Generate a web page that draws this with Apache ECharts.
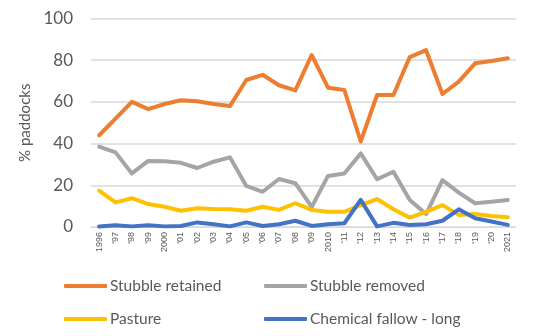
<!DOCTYPE html>
<html>
<head>
<meta charset="utf-8">
<script src="https://cdn.jsdelivr.net/npm/echarts@6/dist/echarts.min.js"></script>
<style>
  html, body { margin: 0; padding: 0; background: #fff; }
  #chart { width: 533px; height: 336px; }
</style>
</head>
<body>
<div id="chart"></div>
<script>
// Survey years and their axis labels
const years = ['1996', "'97", "'98", "'99", '2000', "'01", "'02", "'03", "'04", "'05",
  "'06", "'07", "'08", "'09", '2010', "'11", "'12", "'13", "'14", "'15",
  "'16", "'17", "'18", "'19", "'20", '2021'];

// Share of paddocks (%) by practice
const stubbleRetained = [44, 52, 60, 56.5, 59, 60.8, 60.3, 59, 58, 70.5,
  73, 68, 65.5, 82.5, 66.8, 65.7, 41, 63.3, 63.3, 81.5,
  84.8, 63.8, 69.7, 78.5, 79.6, 80.9];
const stubbleRemoved = [38.5, 35.8, 25.7, 31.7, 31.5, 30.8, 28.3, 31.3, 33.4, 19.7,
  16.9, 23, 21, 9.6, 24.5, 25.7, 35.3, 22.9, 26.5, 13,
  6.2, 22.5, 16.5, 11.4, 12.1, 13];
const pasture = [17.4, 11.8, 13.8, 11, 9.7, 7.8, 9, 8.6, 8.5, 7.8,
  9.7, 8.2, 11.4, 8.2, 7.3, 7.3, 10.5, 13.4, 8.5, 4.5,
  7.3, 10.5, 5.8, 6.2, 5.3, 4.7];
const chemicalFallowLong = [0.2, 0.8, 0.3, 0.8, 0.3, 0.5, 2.2, 1.3, 0.3, 2.2,
  0.5, 1.3, 3, 0.5, 1.3, 1.8, 13, 0.3, 2, 1,
  1.3, 3, 8.5, 4.2, 2.6, 1];

// Value axis ticks
const yTicks = [0, 20, 40, 60, 80, 100];

const seriesDefs = [
  { name: 'Stubble retained', data: stubbleRetained, color: '#ED7D31' },
  { name: 'Stubble removed', data: stubbleRemoved, color: '#A5A5A5' },
  { name: 'Pasture', data: pasture, color: '#FFC000' },
  { name: 'Chemical fallow - long', data: chemicalFallowLong, color: '#4472C4' }
];

const legendPos = [
  { left: 64, top: 278 },
  { left: 264, top: 278 },
  { left: 64, top: 311 },
  { left: 264, top: 311 }
];

const chart = echarts.init(document.getElementById('chart'), null, { renderer: 'canvas' });

chart.setOption({
  animation: false,
  backgroundColor: '#ffffff',
  textStyle: { fontFamily: 'Lato' },
  grid: { left: 91, right: 17, top: 18.5, bottom: 109, containLabel: false },
  legend: seriesDefs.map((s, i) => ({
    data: [s.name],
    left: legendPos[i].left,
    top: legendPos[i].top,
    icon: 'roundRect',
    itemWidth: 43,
    itemHeight: 4,
    itemGap: 0,
    padding: 0,
    textStyle: { fontFamily: 'Lato', fontSize: 15.5, color: '#595959', padding: [0, 0, 0, -2] }
  })),
  xAxis: {
    type: 'category',
    data: years,
    boundaryGap: true,
    axisLine: { show: true, lineStyle: { color: '#D9D9D9', width: 1 } },
    axisTick: { show: false },
    axisLabel: {
      rotate: 90,
      interval: 0,
      margin: 5,
      fontFamily: 'Liberation Sans',
      fontSize: 9,
      color: '#595959'
    }
  },
  yAxis: {
    type: 'value',
    min: yTicks[0],
    max: yTicks[yTicks.length - 1],
    interval: yTicks[1] - yTicks[0],
    name: '% paddocks',
    nameLocation: 'middle',
    nameGap: 45,
    nameRotate: 90,
    nameTextStyle: { fontFamily: 'Lato', fontSize: 15, color: '#595959' },
    axisLine: { show: false },
    axisTick: { show: false },
    axisLabel: { fontFamily: 'Lato', fontSize: 17, color: '#595959', margin: 18 },
    splitLine: { lineStyle: { color: '#D9D9D9', width: 1.5 } }
  },
  series: seriesDefs.map(s => ({
    name: s.name,
    type: 'line',
    data: s.data,
    symbol: 'none',
    smooth: false,
    color: s.color,
    lineStyle: { width: 4, color: s.color, cap: 'round', join: 'round' }
  }))
});
</script>
</body>
</html>
